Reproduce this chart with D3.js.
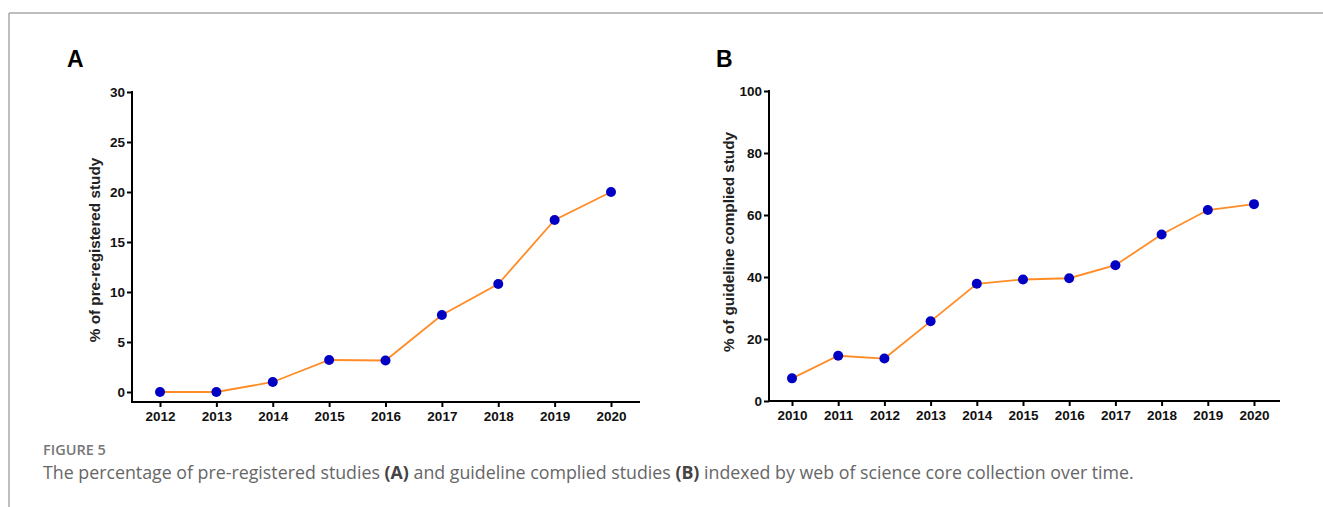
<!DOCTYPE html>
<html>
<head>
<meta charset="utf-8">
<script src="https://cdn.jsdelivr.net/npm/d3@7"></script>
<style>
  body { margin: 0; background: #fff; }
  .tick text { font-family: "Liberation Sans", Arial, sans-serif; font-weight: bold; font-size: 13.5px; fill: #111; }
  .axislabel { font-family: "Liberation Sans", Arial, sans-serif; font-weight: bold; font-size: 15.3px; fill: #222; }
  .panel { font-family: "Liberation Sans", Arial, sans-serif; font-weight: bold; font-size: 23px; fill: #000; }
</style>
</head>
<body>
<div id="chart"></div>
<script>
// Panel A data
var yearsA = [2012, 2013, 2014, 2015, 2016, 2017, 2018, 2019, 2020];
var valuesA = [0, 0, 1.0, 3.2, 3.15, 7.7, 10.8, 17.2, 20.0];
var ticksA = [0, 5, 10, 15, 20, 25, 30];

// Panel B data
var yearsB = [2010, 2011, 2012, 2013, 2014, 2015, 2016, 2017, 2018, 2019, 2020];
var valuesB = [7.3, 14.6, 13.7, 25.7, 37.8, 39.2, 39.6, 43.8, 53.7, 61.6, 63.5];
var ticksB = [0, 20, 40, 60, 80, 100];

var svgWidth = 1323;
var svgHeight = 507;

var svg = d3.select("#chart")
  .append("svg")
  .attr("width", svgWidth)
  .attr("height", svgHeight);

// frame lines
svg.append("line")
  .attr("x1", 9).attr("x2", svgWidth).attr("y1", 13).attr("y2", 13)
  .attr("stroke", "#a8a8a8").attr("stroke-width", 1.5);
svg.append("line")
  .attr("x1", 9).attr("x2", 9).attr("y1", 13).attr("y2", svgHeight)
  .attr("stroke", "#a8a8a8").attr("stroke-width", 1.5);

function drawPanel(opts) {
  var g = svg.append("g");

  var x = d3.scalePoint()
    .domain(opts.years)
    .range([opts.x0, opts.x1]);

  var y = d3.scaleLinear()
    .domain([0, opts.ymax])
    .range([opts.y0, opts.ytop]);

  // x axis
  var xAxis = g.append("g")
    .attr("transform", `translate(0, ${opts.xAxisY})`)
    .call(d3.axisBottom(x).tickSize(5).tickSizeOuter(0).tickPadding(4));
  xAxis.select(".domain").remove();
  xAxis.append("line")
    .attr("x1", opts.axisX).attr("x2", opts.axisEnd)
    .attr("stroke", "#000").attr("stroke-width", 2);

  // y axis
  var yAxis = g.append("g")
    .attr("transform", `translate(${opts.axisX}, 0)`)
    .call(d3.axisLeft(y).tickValues(opts.ticks).tickSize(5).tickSizeOuter(0).tickPadding(2));
  yAxis.select(".domain").remove();
  yAxis.append("line")
    .attr("y1", opts.ytop - 1).attr("y2", opts.xAxisY + 1)
    .attr("stroke", "#000").attr("stroke-width", 2);

  g.selectAll(".tick line").attr("stroke", "#000").attr("stroke-width", 2);

  var data = opts.years.map((d, i) => ({ year: d, value: opts.values[i] }));

  var line = d3.line()
    .x(d => x(d.year))
    .y(d => y(d.value));

  g.append("path")
    .datum(data)
    .attr("fill", "none")
    .attr("stroke", "#ff8c26")
    .attr("stroke-width", 1.8)
    .attr("d", line);

  g.selectAll("circle")
    .data(data)
    .enter()
    .append("circle")
    .attr("cx", d => x(d.year))
    .attr("cy", d => y(d.value))
    .attr("r", 5)
    .attr("fill", "#0000c4");

  // y axis label
  g.append("text")
    .attr("class", "axislabel")
    .attr("transform", `translate(${opts.labelX}, ${opts.labelY}) rotate(-90)`)
    .attr("text-anchor", "middle")
    .text(opts.label);

  // panel letter
  g.append("text")
    .attr("class", "panel")
    .attr("x", opts.letterX)
    .attr("y", 67)
    .text(opts.letter);
}

drawPanel({
  years: yearsA, values: valuesA, ticks: ticksA, ymax: 30,
  x0: 160, x1: 611, y0: 392, ytop: 92, xAxisY: 402,
  axisX: 132, axisEnd: 640, labelX: 100, labelY: 250,
  label: "% of pre-registered study", letter: "A", letterX: 67
});

drawPanel({
  years: yearsB, values: valuesB, ticks: ticksB, ymax: 100,
  x0: 792, x1: 1254, y0: 401, ytop: 91, xAxisY: 401,
  axisX: 769, axisEnd: 1280, labelX: 734, labelY: 242,
  label: "% of guideline complied study", letter: "B", letterX: 716
});

// caption
svg.append("text")
  .attr("x", 43).attr("y", 455)
  .attr("font-family", "'Open Sans', sans-serif")
  .attr("font-size", 14.5)
  .attr("font-weight", 600)
  .attr("fill", "#777")
  .text("FIGURE 5");

var cap = svg.append("text")
  .attr("x", 43).attr("y", 479)
  .attr("font-family", "'Open Sans', sans-serif")
  .attr("font-size", 17.8)
  .attr("fill", "#666");
cap.append("tspan").text("The percentage of pre-registered studies ");
cap.append("tspan").attr("font-weight", 700).attr("fill", "#444").text("(A)");
cap.append("tspan").text(" and guideline complied studies ");
cap.append("tspan").attr("font-weight", 700).attr("fill", "#444").text("(B)");
cap.append("tspan").text(" indexed by web of science core collection over time.");
</script>
</body>
</html>
